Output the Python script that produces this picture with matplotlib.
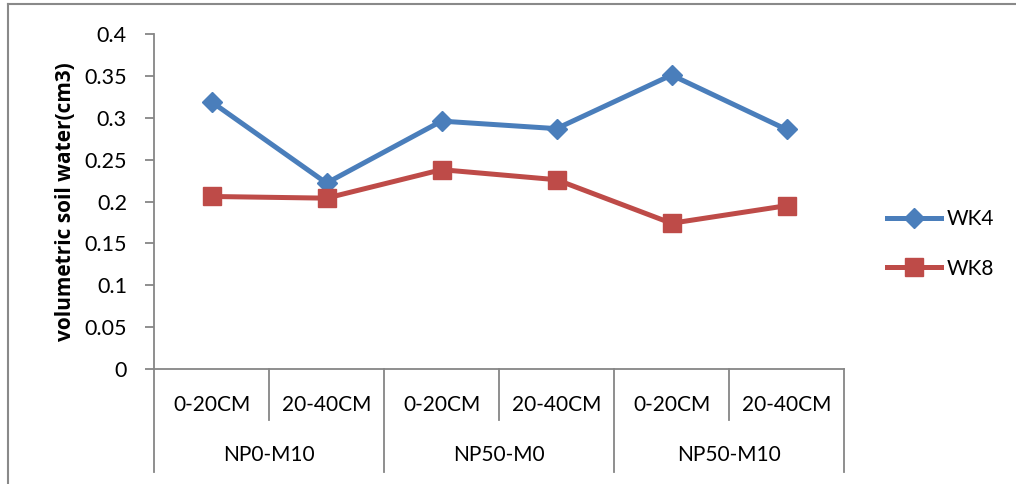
#Line chart of volumetric soil water for WK4 / WK8
#with Excel-like two level category axis
import numpy as np
import matplotlib as mpl
import matplotlib.pyplot as plt
from matplotlib.lines import Line2D

mpl.rcParams['font.family'] = ['Lato', 'DejaVu Sans']

#%%
# data
groups = ['NP0-M10', 'NP50-M0', 'NP50-M10']
depths = ['0-20CM', '20-40CM']
wk4 = [0.319, 0.222, 0.296, 0.287, 0.351, 0.286]
wk8 = [0.206, 0.204, 0.238, 0.226, 0.174, 0.195]
yticks = [0, 0.05, 0.1, 0.15, 0.2, 0.25, 0.3, 0.35, 0.4]

#%%
# figure geometry (pixels)
W, H = 1016, 484
ax_l, ax_r, ax_b, ax_t = 154, 844, 369, 34
grey = '#868686'
blue = '#4A7EBB'
red = '#BE4B48'

fig = plt.figure(figsize=(W/100, H/100), dpi=100)
ax = fig.add_axes([ax_l/W, 1-ax_b/H, (ax_r-ax_l)/W, (ax_b-ax_t)/H])

x = np.arange(len(wk4))
ax.plot(x, wk4, color=blue, lw=3.6, marker='D', ms=10, label='WK4', clip_on=False)
ax.plot(x, wk8, color=red, lw=3.6, marker='s', ms=13, label='WK8', clip_on=False)

ax.set_xlim(-0.5, len(wk4)-0.5)
ax.set_ylim(0, 0.4)
ax.set_yticks(yticks)
ax.set_yticklabels(['0' if v == 0 else ('%g' % v) for v in yticks])
ax.set_xticks([])
for s in ['top', 'right']:
    ax.spines[s].set_visible(False)
for s in ['left', 'bottom']:
    ax.spines[s].set_color(grey)
    ax.spines[s].set_linewidth(1.3)
ax.tick_params(axis='y', direction='out', length=6.5, width=1.3, color=grey,
               labelsize=15.5, pad=13)
ax.set_ylabel('volumetric soil water(cm3)', fontsize=15, fontweight='bold', labelpad=6,
              family=['Open Sans', 'DejaVu Sans'])

#%%
# two level category axis
def ax_frac(ypix):
    return (ax_b - ypix)/(ax_b - ax_t)

tr = ax.get_xaxis_transform()
sub_bottom = ax_frac(420)
grp_bottom = ax_frac(472)
n_sub = len(depths)
for i in range(len(wk4)+1):
    xe = i - 0.5
    yb = grp_bottom if i % n_sub == 0 else sub_bottom
    ax.plot([xe, xe], [0, yb], transform=tr, color=grey, lw=1.3, clip_on=False)

for i in range(len(wk4)):
    ax.text(i, ax_frac(405), depths[i % n_sub], transform=tr, ha='center', va='center',
            fontsize=15)
for g, name in enumerate(groups):
    ax.text(g*n_sub + (n_sub-1)/2, ax_frac(455), name, transform=tr, ha='center',
            va='center', fontsize=15)

ax.legend(loc='center left', bbox_to_anchor=(868/W, 1-244/H), bbox_transform=fig.transFigure,
          frameon=False, fontsize=15, handlelength=2.6, labelspacing=1.4, handletextpad=0.3)

# outer chart border
fig.add_artist(Line2D([8/W, 8/W], [0, 1-4/H], color='#898989', lw=1.5))
fig.add_artist(Line2D([8/W, 1], [1-4/H, 1-4/H], color='#898989', lw=1.5))

plt.savefig('out.png', dpi=100)
